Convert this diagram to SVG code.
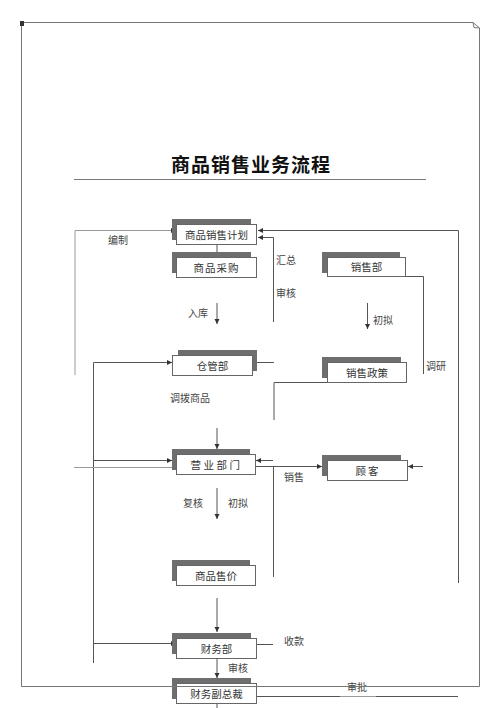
<svg xmlns="http://www.w3.org/2000/svg" width="500" height="708" viewBox="0 0 500 708">
<defs>
<marker id="ah" markerWidth="6" markerHeight="6" refX="5" refY="3" orient="auto" markerUnits="userSpaceOnUse">
<path d="M0,0.5 L5,3 L0,5.5 Z" fill="#333"/>
</marker>
<style>
.sh{fill:#6e6e6e}
.bx{fill:#fff;stroke:#666;stroke-width:1}
.t{font-family:"Liberation Serif","Noto Sans CJK SC",serif;font-size:10.5px;fill:#333;text-anchor:middle}
.lb{font-family:"Liberation Serif","Noto Sans CJK SC",serif;font-size:10px;fill:#444}
.c{fill:none;stroke:#555;stroke-width:1}
.cl{fill:none;stroke:#9a9a9a;stroke-width:1}
.a{marker-end:url(#ah)}
.fr{fill:none;stroke:#777;stroke-width:1}
</style>
</defs>
<rect width="500" height="708" fill="#fff"/>

<g id="title">
<text x="251" y="172" font-family="'Noto Sans CJK SC',sans-serif" font-size="19" font-weight="bold" fill="#111" text-anchor="middle" letter-spacing="1">商品销售业务流程</text>
<line x1="74" y1="179.5" x2="426" y2="179.5" stroke="#777" stroke-width="1"/>
</g>

<g id="connectors">
<path class="cl a" d="M75,375 V230.5 H176"/>
<path class="c a" d="M217,244 V264"/>
<path class="c a" d="M217,303 V324"/>
<path class="c a" d="M273.5,322 V237.5 H258"/>
<path class="c a" d="M458.5,583 V230.5 H258"/>
<path class="c" d="M405,276.5 H423.5 V374"/>
<path class="c a" d="M367.5,303 V329"/>
<path class="c" d="M257,362.5 H274"/>
<path class="c a" d="M93.5,663 V362.5 H172"/>
<path class="c a" d="M93.5,460.5 H172"/>
<path class="c a" d="M93.5,643.5 H176"/>
<path class="cl" d="M74,467.5 H172"/>
<path class="c" d="M327,382.5 H274 V420"/>
<path class="c a" d="M217,428 V449"/>
<path class="c a" d="M273,460.5 H256"/>
<path class="c a" d="M255,466.5 H322"/>
<path class="c" d="M273.5,466.5 V577"/>
<path class="c a" d="M423,466.5 H408"/>
<path class="c a" d="M217,488 V519"/>
<path class="c a" d="M217,598 V632"/>
<path class="c" d="M257,644.5 H273"/>
<path class="c a" d="M217,658 V678"/>
<path class="c" d="M217,703 V708"/>
<path class="c" d="M257,696.5 H340 M376,696.5 H458"/>
<path class="cl" d="M340,696.5 H376"/>
</g>

<g id="n1"><rect class="sh" x="172" y="219" width="79" height="21"/><rect class="bx" x="176.5" y="224.5" width="80" height="20"/><text class="t" x="216.5" y="238.5">商品销售计划</text></g>
<g id="n2"><rect class="sh" x="172" y="252" width="79" height="21"/><rect class="bx" x="176.5" y="257.5" width="80" height="20"/><text class="t" x="216.5" y="271.5" letter-spacing="1">商品采购</text></g>
<g id="n3"><rect class="sh" x="322" y="252" width="78" height="21"/><rect class="bx" x="327.5" y="257.5" width="78" height="19"/><text class="t" x="366.5" y="271">销售部</text></g>
<g id="n4"><rect class="sh" x="178" y="350" width="79" height="21"/><rect class="bx" x="172.5" y="355.5" width="80" height="20"/><text class="t" x="212.5" y="369.5">仓管部</text></g>
<g id="n5"><rect class="sh" x="322" y="357" width="79" height="21"/><rect class="bx" x="327.5" y="362.5" width="79" height="20"/><text class="t" x="367" y="376.5">销售政策</text></g>
<g id="n6"><rect class="sh" x="172" y="449" width="78" height="21"/><rect class="bx" x="176.5" y="454.5" width="79" height="20"/><text class="t" x="216.5" y="468.5" letter-spacing="2.5">营业部门</text></g>
<g id="n7"><rect class="sh" x="322" y="455" width="79" height="21"/><rect class="bx" x="327.5" y="460.5" width="80" height="20"/><text class="t" x="368" y="474.5" letter-spacing="2">顾客</text></g>
<g id="n8"><rect class="sh" x="172" y="560" width="78" height="21"/><rect class="bx" x="176.5" y="565.5" width="79" height="20"/><text class="t" x="216" y="579.5">商品售价</text></g>
<g id="n9"><rect class="sh" x="172" y="633" width="79" height="21"/><rect class="bx" x="176.5" y="638.5" width="80" height="20"/><text class="t" x="216.5" y="652.5">财务部</text></g>
<g id="n10"><rect class="sh" x="172" y="678" width="79" height="21"/><rect class="bx" x="176.5" y="683.5" width="80" height="20"/><text class="t" x="216.5" y="697.5">财务副总裁</text></g>

<g id="labels">
<text class="lb" x="108" y="244">编制</text>
<text class="lb" x="276" y="264">汇总</text>
<text class="lb" x="276" y="297">审核</text>
<text class="lb" x="188" y="317">入库</text>
<text class="lb" x="373" y="324">初拟</text>
<text class="lb" x="426" y="370">调研</text>
<text class="lb" x="170" y="402">调拨商品</text>
<text class="lb" x="284" y="481">销售</text>
<text class="lb" x="183" y="507">复核</text>
<text class="lb" x="228" y="507">初拟</text>
<text class="lb" x="284" y="645">收款</text>
<text class="lb" x="228" y="672">审核</text>
<text class="lb" x="347" y="691">审批</text>
</g>

<g id="page">
<path class="fr" d="M21.5,22.5 H473 L479.5,28 V686.5 H21.5 Z"/>
<path class="fr" d="M473,22.5 L474,27.5 L479.5,28"/>
<rect x="20" y="21" width="4" height="5" fill="#333"/>
</g>
</svg>
